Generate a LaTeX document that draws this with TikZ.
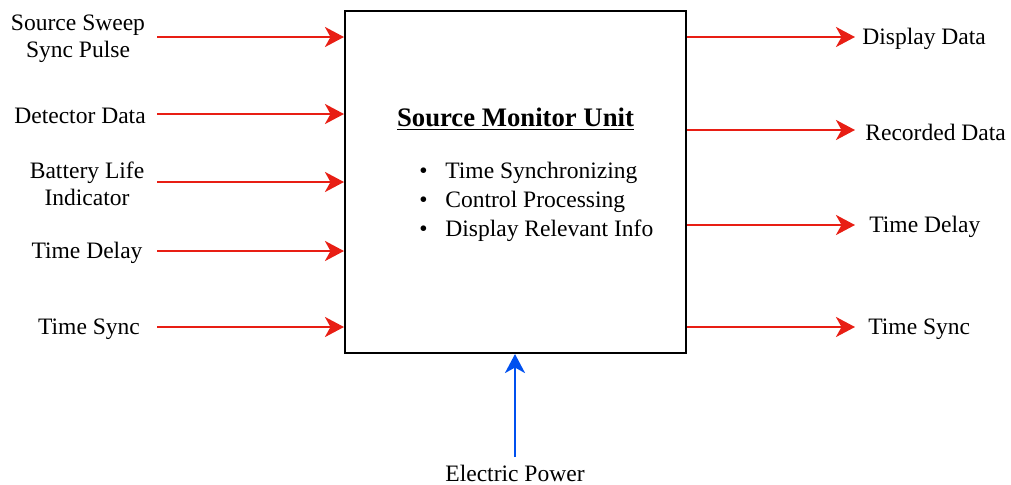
\documentclass[tikz,border=0pt]{standalone}
\usepackage{fontspec}
\setmainfont{Liberation Serif}
\usetikzlibrary{arrows.meta}
\definecolor{sigred}{RGB}{232,30,20}
\definecolor{pwrblue}{RGB}{0,80,239}
\tikzset{
  unitbox/.style = {draw, line width=1.2pt, minimum width=6.82cm,
                    minimum height=6.84cm, inner sep=0pt},
  lbl/.style     = {font=\fontsize{13.4}{15.6}\selectfont, align=center,
                    inner sep=0pt},
  rlbl/.style    = {lbl, anchor=west},
  ttl/.style     = {font=\fontsize{15.2}{18}\selectfont\bfseries, inner sep=0pt},
  blist/.style   = {font=\fontsize{13.4}{16.5}\selectfont, align=left,
                    anchor=west, inner sep=0pt},
  sig/.style     = {draw=sigred, line width=1.5pt,
                    -{Stealth[length=0.38cm,width=0.4cm,inset=0.11cm]}},
  pwr/.style     = {draw=pwrblue, line width=1.5pt,
                    -{Stealth[length=0.38cm,width=0.4cm,inset=0.11cm]}},
}
\newcommand{\bitem}[1]{\makebox[0.52cm][l]{\textbullet}#1}

\begin{document}
\begin{tikzpicture}[x=0.02cm,y=-0.02cm]
  \useasboundingbox (0,0) rectangle (1011,484);
  % main unit
  \node[unitbox] (box) at (515.5,182) {};
  \node[ttl] (title) at (515.5,119) {\underline{Source Monitor Unit}};
  \node[blist] (tasks) at (419,202) {\bitem{Time Synchronizing}\\
    \bitem{Control Processing}\\ \bitem{Display Relevant Info}};
  % inputs
  \node[lbl] (sweep) at (78,39) {Source Sweep\\Sync Pulse};
  \node[lbl] (det)   at (80,116) {Detector Data};
  \node[lbl] (batt)  at (87,184) {Battery Life\\Indicator};
  \node[lbl] (tdin)  at (87,253) {Time Delay};
  \node[lbl] (tsin)  at (89,329) {Time Sync};
  \coordinate (i1) at (157,37);
  \coordinate (i2) at (157,114);
  \coordinate (i3) at (157,182);
  \coordinate (i4) at (157,251);
  \coordinate (i5) at (157,327);
  \foreach \c in {i1,i2,i3,i4,i5}
    \draw[sig] (\c) -- (\c -| box.west);
  % outputs
  \node[rlbl] (disp) at (862,39) {Display Data};
  \node[rlbl] (rec)  at (865,132) {Recorded Data};
  \node[rlbl] (tdout) at (869,227) {Time Delay};
  \node[rlbl] (tsout) at (868,329) {Time Sync};
  \coordinate (o1) at (855,37);
  \coordinate (o2) at (855,130);
  \coordinate (o3) at (855,225);
  \coordinate (o4) at (855,327);
  \foreach \c in {o1,o2,o3,o4}
    \draw[sig] (\c -| box.east) -- (\c);
  % power
  \node[lbl] (power) at (515,473) {Electric Power};
  \coordinate (pw) at (515,457);
  \draw[pwr] (pw) -- (pw |- box.south);
\end{tikzpicture}
\end{document}
